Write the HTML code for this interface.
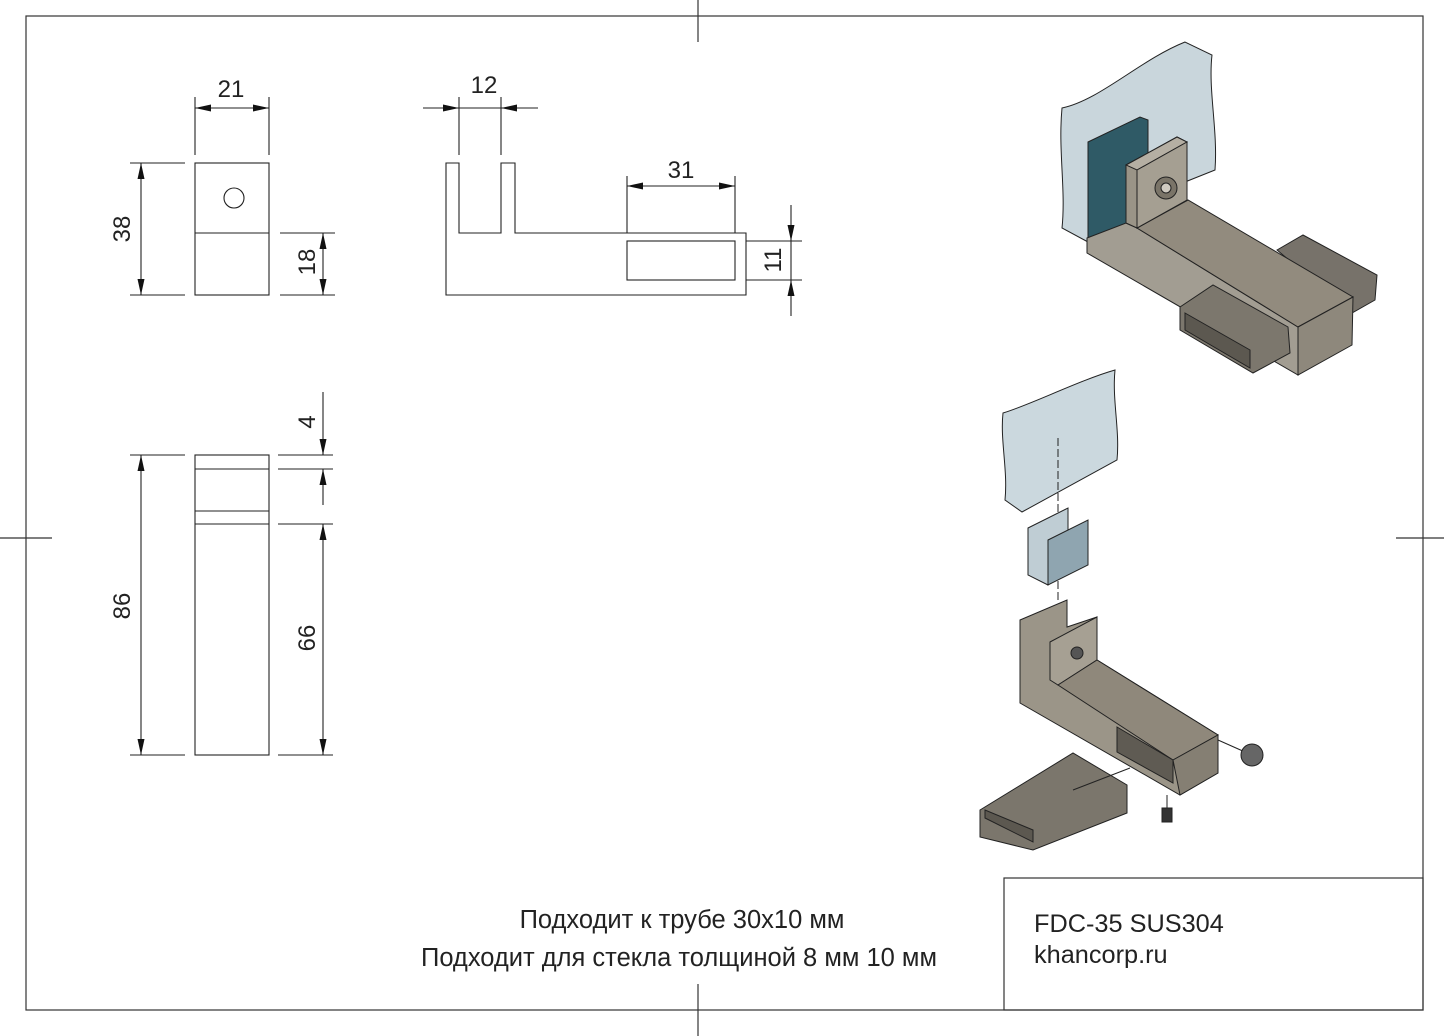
<!DOCTYPE html>
<html><head><meta charset="utf-8"><style>
html,body{margin:0;padding:0;background:#fff;}
svg{display:block;}
text{font-family:"Liberation Sans",sans-serif;fill:#222;}
</style></head><body>
<svg width="1444" height="1036" viewBox="0 0 1444 1036" xmlns="http://www.w3.org/2000/svg">
<defs>
<marker id="a" markerWidth="16" markerHeight="7" refX="16" refY="3.5" orient="auto-start-reverse" markerUnits="userSpaceOnUse"><path d="M0,0 L16,3.5 L0,7 z" fill="#111"/></marker>
</defs>
<g fill="none" stroke="#333" stroke-width="1.2">
<rect x="26" y="16" width="1397" height="994"/>
<line x1="698" y1="0" x2="698" y2="42"/><line x1="698" y1="984" x2="698" y2="1036"/>
<line x1="0" y1="538" x2="52" y2="538"/><line x1="1396" y1="538" x2="1444" y2="538"/>
<rect x="1004" y="878" width="419" height="132"/>
</g>
<!-- View 1 -->
<g fill="none" stroke="#222" stroke-width="1.1">
<rect x="195" y="163" width="74" height="132"/><line x1="195" y1="233" x2="269" y2="233"/>
<circle cx="234" cy="198" r="10"/>
<line x1="195" y1="97" x2="195" y2="155"/><line x1="269" y1="97" x2="269" y2="155"/>
<line x1="195" y1="108" x2="269" y2="108" marker-start="url(#a)" marker-end="url(#a)"/>
<line x1="130" y1="163" x2="185" y2="163"/><line x1="130" y1="295" x2="185" y2="295"/>
<line x1="141" y1="163" x2="141" y2="295" marker-start="url(#a)" marker-end="url(#a)"/>
<line x1="280" y1="233" x2="335" y2="233"/><line x1="280" y1="295" x2="335" y2="295"/>
<line x1="323" y1="233" x2="323" y2="295" marker-start="url(#a)" marker-end="url(#a)"/>
</g>
<text x="231" y="97" font-size="24" text-anchor="middle">21</text>
<text transform="translate(130,229) rotate(-90)" font-size="24" text-anchor="middle">38</text>
<text transform="translate(315,262) rotate(-90)" font-size="24" text-anchor="middle">18</text>
<!-- View 2 -->
<g fill="none" stroke="#222" stroke-width="1.1">
<path d="M446,295 L446,163 L459,163 L459,233 L501,233 L501,163 L515,163 L515,233 L746,233 L746,295 Z"/>
<rect x="627" y="241" width="108" height="39"/>
<line x1="459" y1="97" x2="459" y2="155"/><line x1="501" y1="97" x2="501" y2="155"/>
<line x1="423" y1="108" x2="459" y2="108" marker-end="url(#a)"/>
<line x1="538" y1="108" x2="501" y2="108" marker-end="url(#a)"/>
<line x1="459" y1="108" x2="501" y2="108"/>
<line x1="627" y1="176" x2="627" y2="233"/><line x1="735" y1="176" x2="735" y2="233"/>
<line x1="627" y1="186" x2="735" y2="186" marker-start="url(#a)" marker-end="url(#a)"/>
<line x1="746" y1="241" x2="802" y2="241"/><line x1="746" y1="280" x2="802" y2="280"/>
<line x1="791" y1="205" x2="791" y2="241" marker-end="url(#a)"/>
<line x1="791" y1="316" x2="791" y2="280" marker-end="url(#a)"/>
<line x1="791" y1="241" x2="791" y2="280"/>
</g>
<text x="484" y="93" font-size="24" text-anchor="middle">12</text>
<text x="681" y="178" font-size="24" text-anchor="middle">31</text>
<text transform="translate(781,260) rotate(-90)" font-size="24" text-anchor="middle">11</text>
<!-- View 3 -->
<g fill="none" stroke="#222" stroke-width="1.1">
<rect x="195" y="455" width="74" height="300"/>
<line x1="195" y1="469" x2="269" y2="469"/><line x1="195" y1="511" x2="269" y2="511"/><line x1="195" y1="524" x2="269" y2="524"/>
<line x1="130" y1="455" x2="185" y2="455"/><line x1="130" y1="755" x2="185" y2="755"/>
<line x1="141" y1="455" x2="141" y2="755" marker-start="url(#a)" marker-end="url(#a)"/>
<line x1="278" y1="455" x2="333" y2="455"/><line x1="278" y1="469" x2="333" y2="469"/>
<line x1="278" y1="524" x2="333" y2="524"/><line x1="278" y1="755" x2="333" y2="755"/>
<line x1="323" y1="392" x2="323" y2="455" marker-end="url(#a)"/>
<line x1="323" y1="505" x2="323" y2="469" marker-end="url(#a)"/>
<line x1="323" y1="524" x2="323" y2="755" marker-start="url(#a)" marker-end="url(#a)"/>
</g>
<text transform="translate(315,422) rotate(-90)" font-size="24" text-anchor="middle">4</text>
<text transform="translate(130,606) rotate(-90)" font-size="24" text-anchor="middle">86</text>
<text transform="translate(315,638) rotate(-90)" font-size="24" text-anchor="middle">66</text>
<!-- Upper 3D -->
<g stroke="#222" stroke-width="1">
<path d="M1062,108 C1100,100 1140,60 1185,42 L1212,55 C1208,90 1218,130 1215,170 L1185,182 L1088,242 L1062,228 C1066,190 1058,150 1062,108 Z" fill="#c9d6dc"/>
<path d="M1088,142 L1140,117 L1148,120 L1148,160 L1126,170 L1126,225 L1088,245 Z" fill="#2f5a66"/>
<path d="M1277,250 L1303,235 L1377,275 L1375,300 L1352,313 Z" fill="#77726a"/>
<path d="M1087,238 L1126,223 L1137,228 L1298,327 L1298,375 L1087,253 Z" fill="#a29d92"/>
<path d="M1137,228 L1188,200 L1353,297 L1298,327 Z" fill="#928b7e"/>
<path d="M1298,327 L1353,297 L1352,345 L1298,375 Z" fill="#8e887c"/>
<path d="M1126,165 L1177,137 L1187,142 L1187,200 L1137,228 L1126,223 Z" fill="#9a9487"/>
<path d="M1126,165 L1177,137 L1187,142 L1137,170 Z" fill="#b5afa3"/>
<path d="M1137,170 L1187,142 L1187,200 L1137,228 Z" fill="#a59f92"/>
<circle cx="1166" cy="188" r="11" fill="#7a7468"/><circle cx="1166" cy="188" r="5" fill="#cfcac0"/>
<path d="M1180,307 L1213,285 L1288,327 L1290,353 L1253,373 L1180,330 Z" fill="#7c776d"/>
<path d="M1185,313 L1250,350 L1250,368 L1185,330 Z" fill="#5c5850"/>
</g>
<!-- Lower exploded -->
<g stroke="#222" stroke-width="1">
<path d="M1003,413 C1030,405 1080,380 1115,370 C1112,400 1120,430 1117,460 L1022,512 L1005,500 C1008,470 1000,440 1003,413 Z" fill="#cbd8de"/>
<line x1="1058" y1="438" x2="1058" y2="600" stroke-dasharray="8,3"/>
<path d="M1028,528 L1068,508 L1068,570 L1048,585 L1028,575 Z" fill="#bfcdd4"/>
<path d="M1048,540 L1088,520 L1088,565 L1048,585 Z" fill="#8fa5b0"/>
<path d="M1020,620 L1067,600 L1067,627 L1097,617 L1097,660 L1218,735 L1218,773 L1180,795 L1020,703 Z" fill="#9b9588"/>
<path d="M1050,642 L1097,617 L1097,660 L1058,685 L1050,680 Z" fill="#a6a093"/>
<path d="M1058,685 L1097,660 L1218,735 L1173,760 Z" fill="#8f887b"/>
<path d="M1173,760 L1218,735 L1218,773 L1180,795 Z" fill="#857f73"/>
<path d="M1117,727 L1173,760 L1173,783 L1117,752 Z" fill="#5f5b53"/>
<circle cx="1077" cy="653" r="6" fill="#555"/>
<line x1="1218" y1="740" x2="1245" y2="752"/>
<circle cx="1252" cy="755" r="11" fill="#666"/>
<path d="M980,810 L1073,753 L1127,785 L1127,813 L1033,850 L980,837 Z" fill="#7b766c"/>
<path d="M985,818 L1033,842 L1033,830 L985,810 Z" fill="#5c5850"/>
<line x1="1073" y1="790" x2="1130" y2="768"/>
<line x1="1167" y1="795" x2="1167" y2="808"/>
<rect x="1162" y="808" width="10" height="14" fill="#333"/>
</g>
<!-- Text -->
<text x="682" y="928" font-size="25.5" text-anchor="middle">Подходит к трубе 30х10 мм</text>
<text x="679" y="966" font-size="25.5" text-anchor="middle">Подходит для стекла толщиной 8 мм 10 мм</text>
<text x="1034" y="932" font-size="25.3">FDC-35 SUS304</text>
<text x="1034" y="963" font-size="25.3">khancorp.ru</text>
</svg>
</body></html>
